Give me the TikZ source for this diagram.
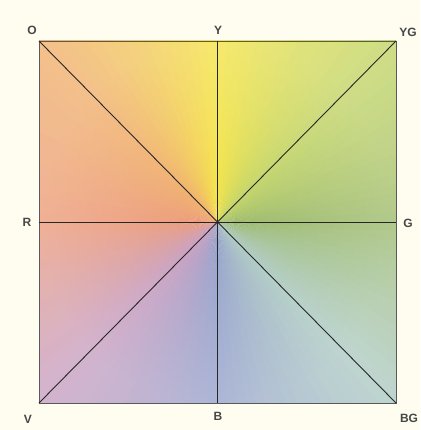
\documentclass[tikz,border=0pt]{standalone}
\usepackage{fontspec}
\setmainfont{Liberation Sans}
\usetikzlibrary{calc,fadings}

\definecolor{paper}{HTML}{FEFDF0}
\definecolor{hueG}{HTML}{9CBA6C}
\definecolor{hueBG}{HTML}{ADCAC2}
\definecolor{hueB}{HTML}{96A2CC}
\definecolor{hueV}{HTML}{C89EC0}
\definecolor{hueR}{HTML}{EC9A7A}
\definecolor{hueO}{HTML}{F0AE6A}
\definecolor{hueY}{HTML}{F4E444}
\definecolor{hueYG}{HTML}{C2D464}
\tikzfading[name=rimfade, inner color=transparent!100, outer color=transparent!78]

\begin{document}
\begin{tikzpicture}[
    x=1pt, y=-1pt,
    mark line/.style = {draw=black!85, line width=0.9pt},
    rim/.style = {draw=black!65, line width=0.9pt},
    hue label/.style = {text=black!72, font=\fontsize{12}{14}\selectfont\bfseries, inner sep=0pt}
]
    % Canvas
    \fill[paper] (0,0) rectangle (420,430);
    \useasboundingbox (0,0) rectangle (420,430);

    % Corners and mid points
    \coordinate (ctr) at (217,222);
    \coordinate (pO) at (39,41);
    \coordinate (pY) at (217,41);
    \coordinate (pYG) at (396,41);
    \coordinate (pR) at (39,222);
    \coordinate (pG) at (396,222);
    \coordinate (pV) at (39,403);
    \coordinate (pB) at (217,403);
    \coordinate (pBG) at (396,403);

    % Colour wedges
    \begin{scope}
        \clip (pO) rectangle (pBG);
        \foreach \ca/\cb [count=\k from 0] in {G/BG, BG/B, B/V, V/R, R/O, O/Y, Y/YG, YG/G} {
            \foreach \i in {0,...,14} {
                \pgfmathtruncatemacro\p{round(100*(\i+0.5)/15)}
                \pgfmathsetmacro\aa{\k*45+\i*3}
                \pgfmathsetmacro\ab{\aa+3.5}
                \fill[hue\cb!\p!hue\ca] (ctr) -- ($(ctr)+(\aa:320)$) -- ($(ctr)+(\ab:320)$) -- cycle;
            }
        }
        \fill[white, path fading=rimfade] (pO) rectangle (pBG);
    \end{scope}

    % Lines
    \draw[rim] (pO) rectangle (pBG);
    \draw[mark line] (pO) -- (pBG);
    \draw[mark line] (pV) -- (pYG);
    \draw[mark line] (pY) -- (pB);
    \draw[mark line] (pR) -- (pG);

    % Labels
    \node[hue label] (O) at (32,30) {O};
    \node[hue label] (Y) at (218,30) {Y};
    \node[hue label] (YG) at (408,32) {YG};
    \node[hue label] (R) at (27,222) {R};
    \node[hue label] (G) at (408,223) {G};
    \node[hue label] (V) at (28,419) {V};
    \node[hue label] (B) at (218,416) {B};
    \node[hue label] (BG) at (409,418) {BG};
\end{tikzpicture}
\end{document}
